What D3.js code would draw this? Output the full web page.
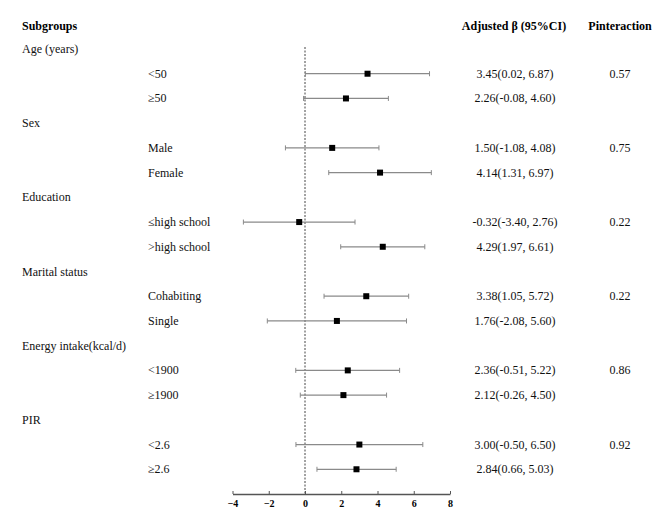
<!DOCTYPE html>
<html><head><meta charset="utf-8">
<script src="https://cdn.jsdelivr.net/npm/d3@7"></script>
<style>body{margin:0;background:#fff}svg{display:block}text{font-family:"Liberation Serif","Times New Roman",serif}</style>
</head><body><div id="chart"></div>
<script>
const groups = ["Age (years)","Sex","Education","Marital status","Energy intake(kcal/d)","PIR"];
const subgroups = [["<50","≥50"],["Male","Female"],["≤high school",">high school"],["Cohabiting","Single"],["<1900","≥1900"],["<2.6","≥2.6"]];
const estimates = [[3.45,2.26],[1.50,4.14],[-0.32,4.29],[3.38,1.76],[2.36,2.12],[3.00,2.84]];
const lower = [[0.02,-0.08],[-1.08,1.31],[-3.40,1.97],[1.05,-2.08],[-0.51,-0.26],[-0.50,0.66]];
const upper = [[6.87,4.60],[4.08,6.97],[2.76,6.61],[5.72,5.60],[5.22,4.50],[6.50,5.03]];
const ciLabels = [["3.45(0.02, 6.87)","2.26(-0.08, 4.60)"],["1.50(-1.08, 4.08)","4.14(1.31, 6.97)"],["-0.32(-3.40, 2.76)","4.29(1.97, 6.61)"],["3.38(1.05, 5.72)","1.76(-2.08, 5.60)"],["2.36(-0.51, 5.22)","2.12(-0.26, 4.50)"],["3.00(-0.50, 6.50)","2.84(0.66, 5.03)"]];
const pInteraction = ["0.57","0.75","0.22","0.22","0.86","0.92"];
const xTicks = [-4,-2,0,2,4,6,8];

const W=669,H=519;
const svg=d3.select("#chart").append("svg").attr("width",W).attr("height",H);
const x=d3.scaleLinear().domain([-4,8]).range([232.5,450]);

const rows=[];
groups.forEach((g,i)=>{
  rows.push({type:"group",label:g});
  subgroups[i].forEach((s,j)=>rows.push({type:"sub",label:s,est:estimates[i][j],lo:lower[i][j],hi:upper[i][j],ci:ciLabels[i][j],p:j===0?pInteraction[i]:""}));
});
const y=d3.scalePoint().domain(d3.range(rows.length+1)).range([49,494]);
const axisY=y(rows.length);

const fs="12px";
svg.append("text").attr("x",22).attr("y",30).attr("font-weight","bold").attr("font-size",fs).text("Subgroups");
svg.append("text").attr("x",514).attr("y",30).attr("text-anchor","middle").attr("font-weight","bold").attr("font-size",fs).text("Adjusted β (95%CI)");
svg.append("text").attr("x",620).attr("y",30).attr("text-anchor","middle").attr("font-weight","bold").attr("font-size",fs).text("Pinteraction");

svg.append("line").attr("x1",x(0)).attr("x2",x(0)).attr("y1",y(0)-2).attr("y2",axisY)
  .attr("stroke","#444").attr("stroke-width",1).attr("stroke-dasharray","2,1.5");

rows.forEach((r,i)=>{
  const yy=y(i);
  if(r.type==="group"){
    svg.append("text").attr("x",22).attr("y",yy+4).attr("font-size",fs).attr("fill","#111").text(r.label);
  } else {
    svg.append("text").attr("x",148).attr("y",yy+4).attr("font-size",fs).attr("fill","#111").text(r.label);
    const g=svg.append("g");
    g.append("line").attr("x1",x(r.lo)).attr("x2",x(r.hi)).attr("y1",yy).attr("y2",yy).attr("stroke","#8a8a8a").attr("stroke-width",1.3);
    [r.lo,r.hi].forEach(v=>g.append("line").attr("x1",x(v)).attr("x2",x(v)).attr("y1",yy-2.5).attr("y2",yy+2.5).attr("stroke","#8a8a8a").attr("stroke-width",1));
    g.append("rect").attr("x",x(r.est)-3).attr("y",yy-3).attr("width",6).attr("height",6).attr("fill","#000");
    svg.append("text").attr("x",515).attr("y",yy+4).attr("text-anchor","middle").attr("font-size",fs).attr("fill","#111").text(r.ci);
    if(r.p) svg.append("text").attr("x",620).attr("y",yy+4).attr("text-anchor","middle").attr("font-size",fs).attr("fill","#111").text(r.p);
  }
});

const ax=svg.append("g").attr("transform",`translate(0,${axisY})`)
  .call(d3.axisBottom(x).tickValues(xTicks).tickSize(-3).tickSizeOuter(0).tickPadding(6));
ax.select(".domain").attr("stroke","#555").attr("stroke-width",1.3);
ax.selectAll(".tick line").attr("stroke","#555");
ax.selectAll(".tick text").attr("font-family","Liberation Serif,serif").attr("font-weight","bold").attr("font-size","10px").attr("fill","#000");
</script></body></html>
